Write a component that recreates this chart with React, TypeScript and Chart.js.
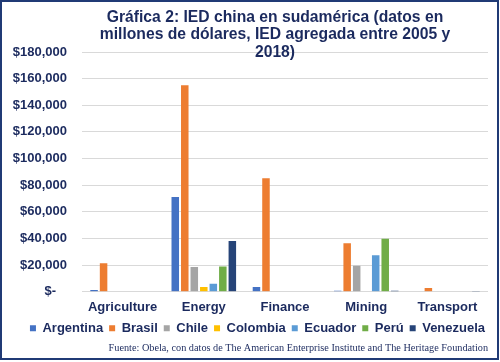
import React, { useEffect, useRef } from "react";
import { Chart, registerables } from "chart.js";

Chart.register(...registerables);

// ---- data ----
const categories = ["Agriculture", "Energy", "Finance", "Mining", "Transport"];
const countries = ["Argentina", "Brasil", "Chile", "Colombia", "Ecuador", "Perú", "Venezuela"];
const argentina = [1200, 71200, 3500, 750, 0];
const brasil = [21300, 155000, 85200, 36300, 2800];
const chile = [0, 18600, 0, 19500, 0];
const colombia = [0, 3500, 0, 0, 0];
const ecuador = [0, 6000, 0, 27300, 0];
const peru = [0, 19000, 0, 39800, 0];
const venezuela = [0, 38100, 0, 750, 500];
const seriesValues = [argentina, brasil, chile, colombia, ecuador, peru, venezuela];
const seriesColors = ["#4472C4", "#ED7D31", "#A5A5A5", "#FFC000", "#5B9BD5", "#70AD47", "#264478"];
const yMin = 0;
const yMax = 180000;
const yStep = 20000;
const titleLines = [
  "Gráfica 2: IED china en sudamérica (datos en",
  "millones de dólares, IED agregada entre 2005 y",
  "2018)",
];
const sourceText =
  "Fuente: Obela, con datos de The American Enterprise Institute and The Heritage Foundation";

const NAVY = "#1B2A5E";
const FRAME = "#203A75";
const SANS = "'Liberation Sans', Arial, sans-serif";
const SERIF = "'Liberation Serif', 'Times New Roman', serif";

function formatTick(v: number): string {
  if (v === 0) return "$-   ";
  return "$" + v.toLocaleString("en-US");
}

// nudges the legend row a little to the right, as in the original layout
const legendShift = {
  id: "legendShift",
  afterLayout(chart: any) {
    const lg = chart.legend;
    if (lg) {
      lg.left += 7;
      lg.right += 7;
    }
  },
};

export default function App() {
  const canvasRef = useRef<HTMLCanvasElement | null>(null);

  useEffect(() => {
    if (!canvasRef.current) return;
    const chart = new Chart(canvasRef.current, {
      type: "bar",
      data: {
        labels: categories,
        datasets: countries.map((name, i) => ({
          label: name,
          data: seriesValues[i],
          backgroundColor: seriesColors[i],
          borderWidth: 0,
        })),
      },
      plugins: [legendShift],
      options: {
        responsive: false,
        animation: false,
        layout: { padding: { top: 52, left: 13, right: 12, bottom: 8 } },
        datasets: { bar: { categoryPercentage: 0.82, barPercentage: 0.79 } },
        scales: {
          x: {
            grid: { display: false, drawTicks: false },
            border: { display: false },
            ticks: {
              color: NAVY,
              padding: 8,
              font: { family: SANS, size: 13, weight: "bold" },
            },
            afterFit: (s: any) => {
              s.height = 24;
            },
          },
          y: {
            min: yMin,
            max: yMax,
            grid: { color: "#D9D9D9", drawTicks: false, lineWidth: 1 },
            border: { display: false },
            ticks: {
              stepSize: yStep,
              color: NAVY,
              padding: 15,
              font: { family: SANS, size: 13, weight: "bold" },
              callback: (v: any) => formatTick(Number(v)),
            },
            afterFit: (s: any) => {
              s.width = 69;
            },
          },
        },
        plugins: {
          title: { display: false },
          tooltip: { enabled: false },
          legend: {
            position: "bottom",
            labels: {
              boxWidth: 6,
              boxHeight: 6,
              padding: 6,
              color: NAVY,
              font: { family: SANS, size: 13, weight: "bold" },
            },
          },
          subtitle: {
            display: true,
            text: sourceText,
            position: "bottom",
            align: "end",
            color: NAVY,
            font: { family: SERIF, size: 10.25, weight: "normal" },
            padding: { top: -3, bottom: 0 },
          },
        },
      },
    } as any);
    return () => chart.destroy();
  }, []);

  return (
    <div
      style={{
        position: "absolute",
        left: 0,
        top: 0,
        width: 500,
        height: 362,
        overflow: "hidden",
        background: "#ffffff",
      }}
    >
      <div
        style={{
          position: "absolute",
          left: 0,
          top: 0,
          width: 499,
          height: 360,
          boxSizing: "border-box",
          border: `2px solid ${FRAME}`,
        }}
      />
      <canvas
        ref={canvasRef}
        width={500}
        height={362}
        style={{ position: "absolute", left: 0, top: 0, width: 500, height: 362 }}
      />
      <div
        style={{
          position: "absolute",
          left: 50,
          top: 7.5,
          width: 450,
          textAlign: "center",
          fontFamily: SANS,
          fontWeight: "bold",
          fontSize: 15.7,
          lineHeight: "17.7px",
          color: NAVY,
          whiteSpace: "nowrap",
        }}
      >
        {titleLines.map((l, i) => (
          <div key={i}>{l}</div>
        ))}
      </div>
    </div>
  );
}
